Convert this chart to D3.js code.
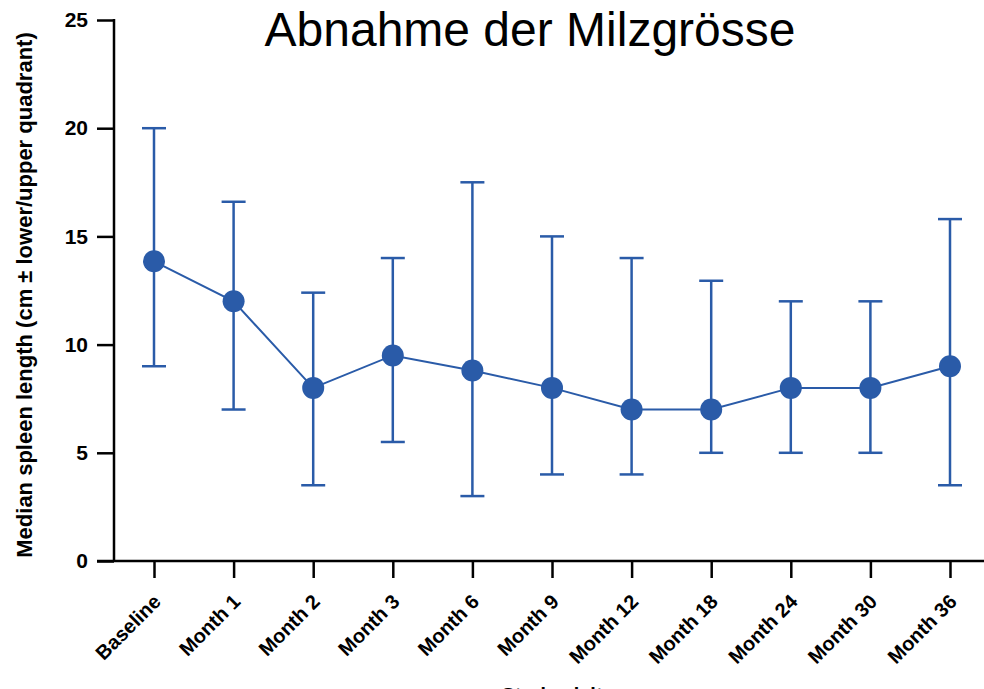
<!DOCTYPE html>
<html>
<head>
<meta charset="utf-8">
<script src="https://cdn.jsdelivr.net/npm/d3@7"></script>
<style>
  body { margin: 0; background: #fff; }
  text { font-family: "Liberation Sans", Arial, sans-serif; }
</style>
</head>
<body>
<div id="chart"></div>
<script>
var width = 984,
    height = 689;

// data
var visits = ["Baseline", "Month 1", "Month 2", "Month 3", "Month 6", "Month 9",
              "Month 12", "Month 18", "Month 24", "Month 30", "Month 36"];
var medians = [13.85, 12, 8, 9.5, 8.8, 8, 7, 7, 8, 8, 9];
var upper = [20, 16.6, 12.4, 14, 17.5, 15, 14, 12.95, 12, 12, 15.8];
var lower = [9, 7, 3.5, 5.5, 3, 4, 4, 5, 5, 5, 3.5];
var yTicks = [0, 5, 10, 15, 20, 25];

var blue = "#2a5ba8";

var svg = d3.select("#chart").append("svg")
    .attr("width", width)
    .attr("height", height);

var x = d3.scalePoint()
    .domain(visits)
    .range([154, 950]);

var y = d3.scaleLinear()
    .domain([0, 25])
    .range([561, 20]);

var rows = visits.map(function(v, i) {
  return {visit: v, med: medians[i], hi: upper[i], lo: lower[i]};
});

// title
svg.append("text")
    .attr("x", 530)
    .attr("y", 46)
    .attr("text-anchor", "middle")
    .attr("font-size", 48)
    .text("Abnahme der Milzgrösse");

// y axis
var yAxis = svg.append("g")
    .attr("transform", "translate(114,0)")
    .call(d3.axisLeft(y).tickValues(yTicks).tickSize(17).tickPadding(9));
yAxis.select(".domain").remove();
yAxis.append("line")
    .attr("x1", 0).attr("x2", 0)
    .attr("y1", y(25) - 1).attr("y2", y(0))
    .attr("stroke", "#000").attr("stroke-width", 2.5);
yAxis.selectAll(".tick line").attr("stroke", "#000").attr("stroke-width", 2.5);
yAxis.selectAll(".tick text")
    .attr("fill", "#000")
    .attr("font-size", 21)
    .attr("font-weight", "bold")
    .attr("font-family", "Liberation Sans, Arial, sans-serif");

// x axis
var xAxis = svg.append("g")
    .attr("transform", "translate(0," + y(0) + ")")
    .call(d3.axisBottom(x).tickSize(17).tickFormat(""));
xAxis.select(".domain").remove();
xAxis.append("line")
    .attr("x1", 97).attr("x2", width)
    .attr("y1", 0).attr("y2", 0)
    .attr("stroke", "#000").attr("stroke-width", 2.5);
xAxis.selectAll(".tick line").attr("stroke", "#000").attr("stroke-width", 2.5);

svg.append("g").selectAll("text")
    .data(visits)
    .enter().append("text")
    .attr("transform", function(d) { return "translate(" + (x(d) + 8) + "," + (y(0) + 42) + ") rotate(-45)"; })
    .attr("text-anchor", "end")
    .attr("font-size", 20)
    .attr("font-weight", "bold")
    .text(function(d) { return d; });

// axis titles
svg.append("text")
    .attr("transform", "translate(32,295) rotate(-90)")
    .attr("text-anchor", "middle")
    .attr("font-size", 22)
    .attr("font-weight", "bold")
    .text("Median spleen length (cm ± lower/upper quadrant)");

// x title sits below the visible area, like in the original crop
svg.append("text")
    .attr("x", 552)
    .attr("y", 702)
    .attr("text-anchor", "middle")
    .attr("font-size", 20)
    .attr("font-weight", "bold")
    .text("Study visit");

// error bars
var bars = svg.append("g").selectAll("g")
    .data(rows)
    .enter().append("g")
    .attr("stroke", blue)
    .attr("stroke-width", 2.5);

bars.append("line")
    .attr("x1", function(d) { return x(d.visit); })
    .attr("x2", function(d) { return x(d.visit); })
    .attr("y1", function(d) { return y(d.hi); })
    .attr("y2", function(d) { return y(d.lo); });
bars.append("line")
    .attr("x1", function(d) { return x(d.visit) - 12; })
    .attr("x2", function(d) { return x(d.visit) + 12; })
    .attr("y1", function(d) { return y(d.hi); })
    .attr("y2", function(d) { return y(d.hi); });
bars.append("line")
    .attr("x1", function(d) { return x(d.visit) - 12; })
    .attr("x2", function(d) { return x(d.visit) + 12; })
    .attr("y1", function(d) { return y(d.lo); })
    .attr("y2", function(d) { return y(d.lo); });

// median line + markers
var line = d3.line()
    .x(function(d) { return x(d.visit); })
    .y(function(d) { return y(d.med); });

svg.append("path")
    .datum(rows)
    .attr("d", line)
    .attr("fill", "none")
    .attr("stroke", blue)
    .attr("stroke-width", 2);

svg.append("g").selectAll("circle")
    .data(rows)
    .enter().append("circle")
    .attr("cx", function(d) { return x(d.visit); })
    .attr("cy", function(d) { return y(d.med); })
    .attr("r", 11)
    .attr("fill", blue);
</script>
</body>
</html>
